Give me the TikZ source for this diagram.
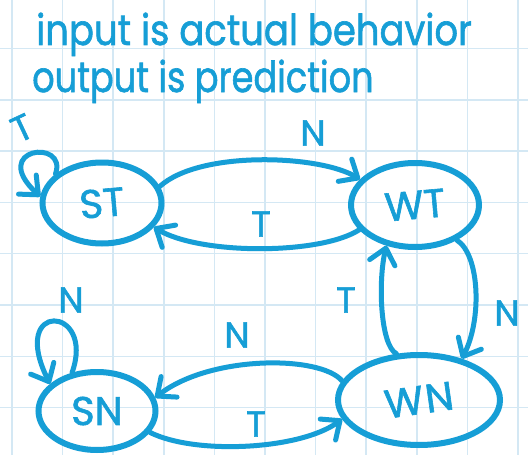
\documentclass[tikz,border=0pt]{standalone}
\usepackage{fontspec}
\setmainfont{Poppins}[FakeBold=1.5]
\usetikzlibrary{arrows.meta,shapes.geometric}
\definecolor{ink}{RGB}{22,158,214}
\definecolor{gridc}{RGB}{212,232,244}
\begin{document}
\begin{tikzpicture}[x=1pt,y=-1pt,
  state/.style={draw=ink,line width=6pt,ellipse,inner sep=0pt,text=ink,font=\fontsize{40}{40}\selectfont},
  edge/.style={draw=ink,line width=5pt,line cap=round,-{Straight Barb[length=15pt,width=26pt,round]}},
  lab/.style={text=ink,font=\fontsize{36}{36}\selectfont,inner sep=0pt},
  title/.style={text=ink,font=\fontsize{37}{40}\selectfont,inner sep=0pt,anchor=base west}]
\fill[white] (0,0) rectangle (528,455);
\useasboundingbox (0,0) rectangle (528,455);
\foreach \i in {0,...,10} \draw[gridc,line width=1.5pt] ({12+50.6*\i},0) -- ({12+50.6*\i},455);
\foreach \j in {0,...,7} \draw[gridc,line width=1.5pt] (0,{48.5+51.3*\j}) -- (528,{48.5+51.3*\j});
% title
\node[title] (t1) at (36,45) {\scalebox{1}[1.15]{input is actual behavior}};
\node[title] (t2) at (32,92) {\scalebox{0.95}[1.15]{output is prediction}};
% states
\node[state,minimum width=119pt,minimum height=81pt] (ST) at (102,203) {\rotatebox{5}{ST}};
\node[state,minimum width=128pt,minimum height=84pt] (WT) at (415,205) {\rotatebox{5}{WT}};
\node[state,minimum width=162pt,minimum height=90pt] (WN) at (419,400) {\rotatebox{8}{W\kern2pt N}};
\node[state,minimum width=117pt,minimum height=78pt] (SN) at (97,411) {SN};
% edges
\draw[edge] (ST.148) .. controls (68,138) and (-12,148) .. (ST.174);
\draw[edge] (ST.16) .. controls (200,150) and (320,155) .. (WT.155);
\draw[edge] (WT.204) .. controls (320,255) and (200,255) .. (ST.-25);
\draw[edge] (WT.320) .. controls (480,255) and (482,320) .. (WN.44);
\draw[edge] (WN.116) .. controls (380,345) and (378,280) .. (WT.235);
\draw[edge] (WN.166) .. controls (320,355) and (210,355) .. (SN.13);
\draw[edge] (SN.-22) .. controls (195,455) and (300,450) .. (WN.194);
\draw[edge] (SN.123) .. controls (96,305) and (8,300) .. (SN.150);
% edge labels
\node[lab,rotate=25] (l1) at (22,128) {T};
\node[lab] (l2) at (313,133) {N};
\node[lab] (l3) at (261,224) {T};
\node[lab] (l4) at (346,300) {T};
\node[lab] (l5) at (507,313) {N};
\node[lab] (l6) at (237,335) {N};
\node[lab] (l7) at (256,424) {T};
\node[lab] (l8) at (71,300) {N};
\end{tikzpicture}
\end{document}
